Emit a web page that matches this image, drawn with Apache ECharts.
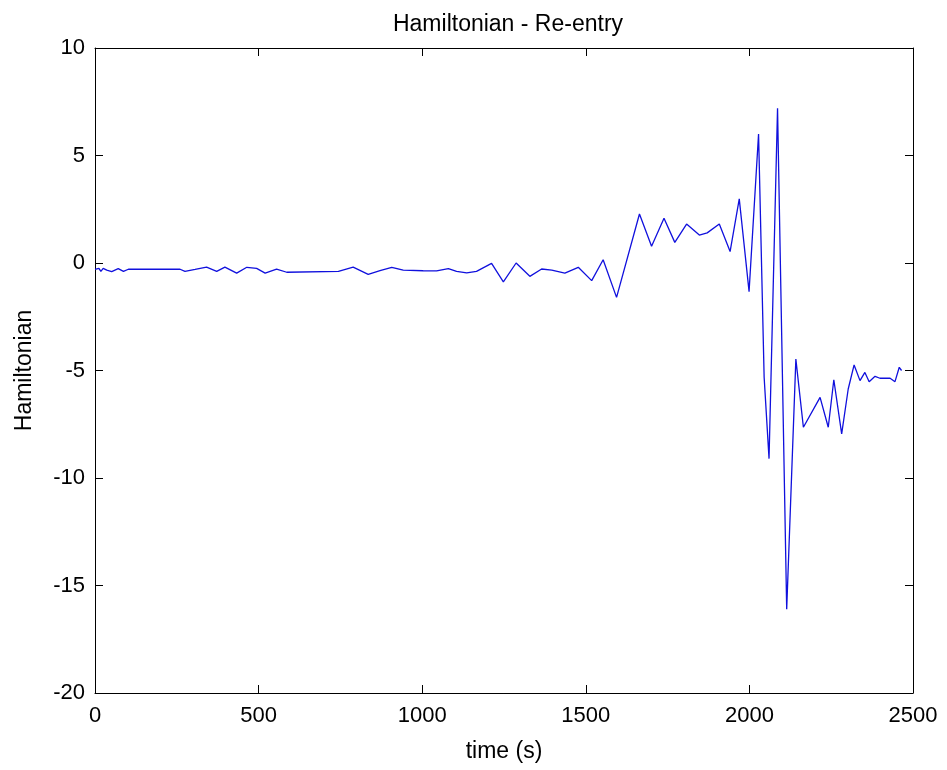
<!DOCTYPE html>
<html>
<head>
<meta charset="utf-8">
<script src="https://cdn.jsdelivr.net/npm/echarts@6/dist/echarts.min.js"></script>
<style>
  html, body { margin: 0; padding: 0; background: #fff; }
  #chart { width: 947px; height: 770px; }
</style>
</head>
<body>
<div id="chart"></div>
<script>
// time (s) and Hamiltonian values
const timeS = [
  0, 5, 12, 18, 25, 36, 51, 71, 87, 102, 260, 275, 306, 341, 372, 397, 433, 464, 494, 520,
  555, 586, 744, 789, 835, 871, 907, 942, 1003, 1044, 1080, 1105, 1136, 1166, 1212, 1248,
  1287, 1329, 1365, 1396, 1436, 1477, 1518, 1553, 1594, 1664, 1701, 1739, 1772, 1808, 1847,
  1871, 1908, 1941, 1969, 1999, 2028, 2045, 2060, 2086, 2114, 2142, 2165, 2216, 2241, 2258,
  2282, 2302, 2320, 2338, 2353, 2366, 2384, 2399, 2430, 2445, 2458, 2465
]
const hamiltonian = [
  -0.3, -0.36, -0.25, -0.39, -0.25, -0.33, -0.40, -0.26, -0.39, -0.29, -0.29, -0.39, -0.30,
  -0.19, -0.39, -0.19, -0.47, -0.20, -0.25, -0.47, -0.28, -0.43, -0.39, -0.19, -0.53, -0.36,
  -0.20, -0.33, -0.36, -0.37, -0.26, -0.39, -0.46, -0.39, -0.02, -0.88, 0.0, -0.62, -0.28,
  -0.33, -0.47, -0.20, -0.82, 0.15, -1.60, 2.28, 0.78, 2.08, 0.96, 1.81, 1.30, 1.40, 1.81,
  0.53, 2.98, -1.33, 6.0, -5.3, -9.1, 7.2, -16.1, -4.47, -7.64, -6.25, -7.64, -5.43, -7.95,
  -5.86, -4.74, -5.47, -5.09, -5.52, -5.27, -5.36, -5.36, -5.52, -4.85, -5.0
]

const chart = echarts.init(document.getElementById('chart'))
const font = 'Liberation Sans, Arial, sans-serif'

const xBase = {
  type: 'value', min: 0, max: 2500, interval: 500,
  axisLine: { show: true, onZero: false, lineStyle: { color: '#000', width: 1 } },
  axisTick: { show: true, inside: true, length: 8, lineStyle: { color: '#000' } },
  splitLine: { show: false }
}
const yBase = {
  type: 'value', min: -20, max: 10, interval: 5,
  axisLine: { show: true, onZero: false, lineStyle: { color: '#000', width: 1 } },
  axisTick: { show: true, inside: true, length: 8, lineStyle: { color: '#000' } },
  splitLine: { show: false }
}

chart.setOption({
  animation: false,
  backgroundColor: '#fff',
  title: {
    text: 'Hamiltonian - Re-entry',
    left: 503, top: 8, textAlign: 'center',
    textStyle: { fontFamily: font, fontSize: 23, fontWeight: 'normal', color: '#000' }
  },
  grid: { left: 95, right: 34, top: 48, bottom: 77 },
  xAxis: [
    Object.assign({}, xBase, {
      position: 'bottom',
      name: 'time (s)', nameLocation: 'middle', nameGap: 47,
      nameTextStyle: { fontFamily: font, fontSize: 23, color: '#000' },
      axisLabel: { fontFamily: font, fontSize: 22, color: '#000', margin: 12, formatter: v => String(v) }
    }),
    Object.assign({}, xBase, { position: 'top', axisLabel: { show: false } })
  ],
  yAxis: [
    Object.assign({}, yBase, {
      position: 'left',
      name: 'Hamiltonian', nameLocation: 'middle', nameGap: 59, nameRotate: 90,
      nameTextStyle: { fontFamily: font, fontSize: 23, color: '#000' },
      axisLabel: { fontFamily: font, fontSize: 22, color: '#000', margin: 10 }
    }),
    Object.assign({}, yBase, { position: 'right', axisLabel: { show: false } })
  ],
  series: [{
    type: 'line',
    xAxisIndex: 0, yAxisIndex: 0,
    data: timeS.map((t, i) => [t, hamiltonian[i]]),
    showSymbol: false,
    lineStyle: { color: '#1010dd', width: 1.3 }
  }]
})
</script>
</body>
</html>
